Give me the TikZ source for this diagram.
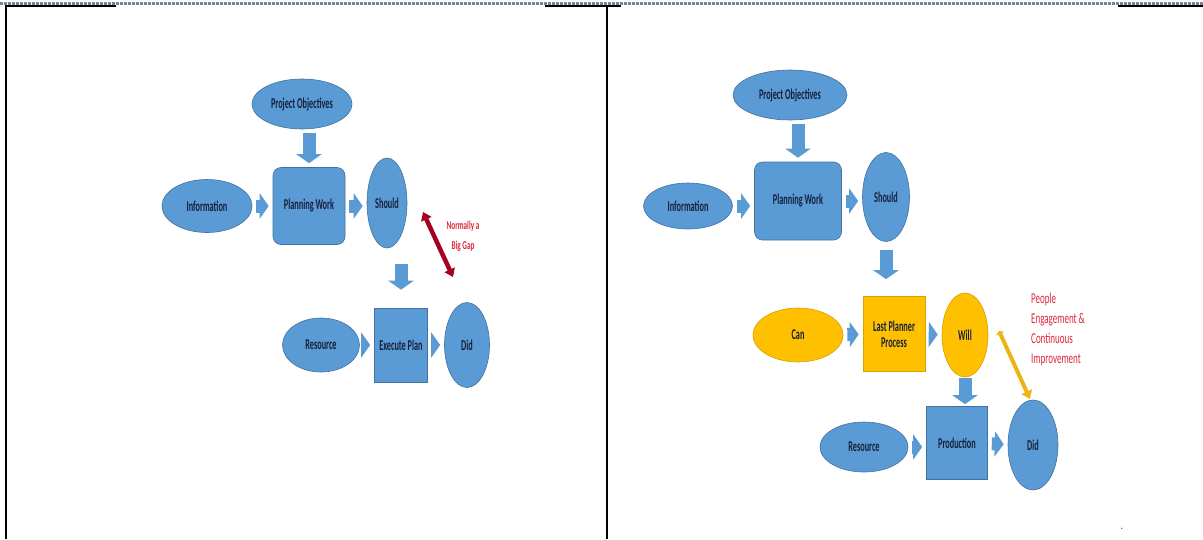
\documentclass[tikz,border=0pt]{standalone}
\usepackage{fontspec}
\newfontfamily\boxfont[FakeStretch=0.55]{Carlito}
\newfontfamily\notefont[FakeStretch=0.6]{Carlito}
\usetikzlibrary{shapes.geometric,arrows.meta}
\definecolor{boxblue}{RGB}{91,155,213}
\definecolor{edgeblue}{RGB}{65,113,156}
\definecolor{boxgold}{RGB}{255,192,0}
\definecolor{edgegold}{RGB}{214,160,0}
\definecolor{labelnavy}{RGB}{22,32,58}
\definecolor{gapred}{RGB}{165,0,33}
\definecolor{notered}{RGB}{220,40,60}
\definecolor{arrowgold}{RGB}{236,180,20}
\definecolor{rulegray}{RGB}{120,132,155}

\begin{document}
\begin{tikzpicture}[x=1pt,y=-1pt,
        lbl/.style={font=\boxfont\bfseries\fontsize{15}{16}\selectfont, text=labelnavy, align=center, inner sep=0pt},
        blueell/.style={lbl, ellipse, fill=boxblue, draw=edgeblue, line width=0.6pt},
        bluebox/.style={lbl, rectangle, fill=boxblue, draw=edgeblue, line width=0.6pt},
        goldell/.style={lbl, ellipse, fill=boxgold, draw=edgegold, line width=0.6pt},
        goldbox/.style={lbl, rectangle, fill=boxgold, draw=edgegold, line width=0.6pt},
        flow/.style={boxblue, line width=13pt, -{Triangle[length=9pt,width=25pt]}, shorten <=4pt, shorten >=4pt},
        gap/.style={gapred, line width=4.5pt, {Triangle[length=8pt,width=11pt]}-{Triangle[length=8pt,width=11pt]}},
        will/.style={arrowgold, line width=4pt, {Triangle[length=3pt,width=9pt]}-{Triangle[length=8pt,width=11pt]}},
        note/.style={font=\notefont, text=notered, inner sep=0pt}]
        \useasboundingbox (0,0) rectangle (1203,539);

        % table rules
        \draw[rulegray, line width=2.5pt, dash pattern=on 3pt off 1pt] (0,3.5) -- (1203,3.5);
        \draw[line width=2pt] (6,6) -- (116,6);
        \draw[line width=2pt] (545,6) -- (621,6);
        \draw[line width=2pt] (1118,6) -- (1203,6);
        \draw[line width=1.8pt] (6,5) -- (6,539);
        \draw[line width=1.8pt] (607,5) -- (607,539);

        % left: before
        \draw (302,104) node[blueell, minimum width=100, minimum height=50] (objL) {Project Objectives};
        \draw (309,206) node[bluebox, rounded corners=8pt, minimum width=72, minimum height=77] (planL) {Planning Work};
        \draw (207,206) node[blueell, minimum width=90, minimum height=53] (infoL) {Information};
        \draw (387,203) node[blueell, minimum width=40, minimum height=90] (shouldL) {Should};
        \draw (401,345) node[bluebox, minimum width=53, minimum height=74] (execL) {Execute Plan};
        \draw (321,345) node[blueell, minimum width=77, minimum height=54] (resL) {Resource};
        \draw (467,345) node[blueell, minimum width=45, minimum height=85] (didL) {Did};

        \draw[flow] (planL.north |- objL.south) -- (planL.north);
        \draw[flow] (infoL) -- (planL);
        \draw[flow] (planL.east) -- (planL.east -| shouldL.west);
        \draw[flow, shorten <=16pt, shorten >=18pt] (execL.north |- shouldL.south) -- (execL.north);
        \draw[flow] (resL) -- (execL);
        \draw[flow] (execL) -- (didL);

        \coordinate (gapTop) at (423,212);
        \coordinate (gapBot) at (453,277);
        \draw[gap] (gapTop) -- (gapBot);
        \node[note, font=\notefont\bfseries\fontsize{12}{20}\selectfont, align=center, anchor=north] (gapNote) at (463,221) {Normally a\\Big Gap};

        % right: with last planner
        \draw (790,95) node[blueell, minimum width=114, minimum height=50] (objR) {Project Objectives};
        \draw (798,201) node[bluebox, rounded corners=8pt, minimum width=87, minimum height=78] (planR) {Planning Work};
        \draw (688,206) node[blueell, minimum width=89, minimum height=46] (infoR) {Information};
        \draw (886,197) node[blueell, minimum width=47, minimum height=89] (shouldR) {Should};
        \draw (798,335) node[goldell, minimum width=90, minimum height=54] (canR) {Can};
        \draw (894,334) node[goldbox, minimum width=62, minimum height=75] (lppR) {Last Planner\\Process};
        \draw (965,335) node[goldell, minimum width=46, minimum height=84] (willR) {Will};
        \draw (957,443) node[bluebox, minimum width=61, minimum height=73] (prodR) {Production};
        \draw (864,447) node[blueell, minimum width=88, minimum height=50] (resR) {Resource};
        \draw (1033,445) node[blueell, minimum width=50, minimum height=90] (didR) {Did};

        \draw[flow] (planR.north |- objR.south) -- (planR.north);
        \draw[flow] (infoR.east) -- (infoR.east -| planR.west);
        \draw[flow] (planR.east) -- (planR.east -| shouldR.west);
        \draw[flow, shorten <=8pt, shorten >=17pt] (shouldR.south) -- (shouldR.south |- lppR.north);
        \draw[flow] (canR) -- (lppR);
        \draw[flow] (lppR) -- (willR);
        \draw[flow, shorten <=1pt, shorten >=2pt] (willR.south) -- (willR.south |- prodR.north);
        \draw[flow] (resR) -- (resR -| prodR.west);
        \draw[flow] (prodR) -- (didR);

        \coordinate (willTop) at (999,331);
        \coordinate (willBot) at (1030,399);
        \draw[will] (willTop) -- (willBot);
        \node[note, font=\notefont\fontsize{15}{20}\selectfont, align=left, anchor=north west] (peopleNote) at (1031,293) {People\\Engagement \&\\Continuous\\Improvement};

        \node[font=\boxfont\fontsize{12}{12}\selectfont] (stop) at (1122,529) {.};
    \end{tikzpicture}
\end{document}
